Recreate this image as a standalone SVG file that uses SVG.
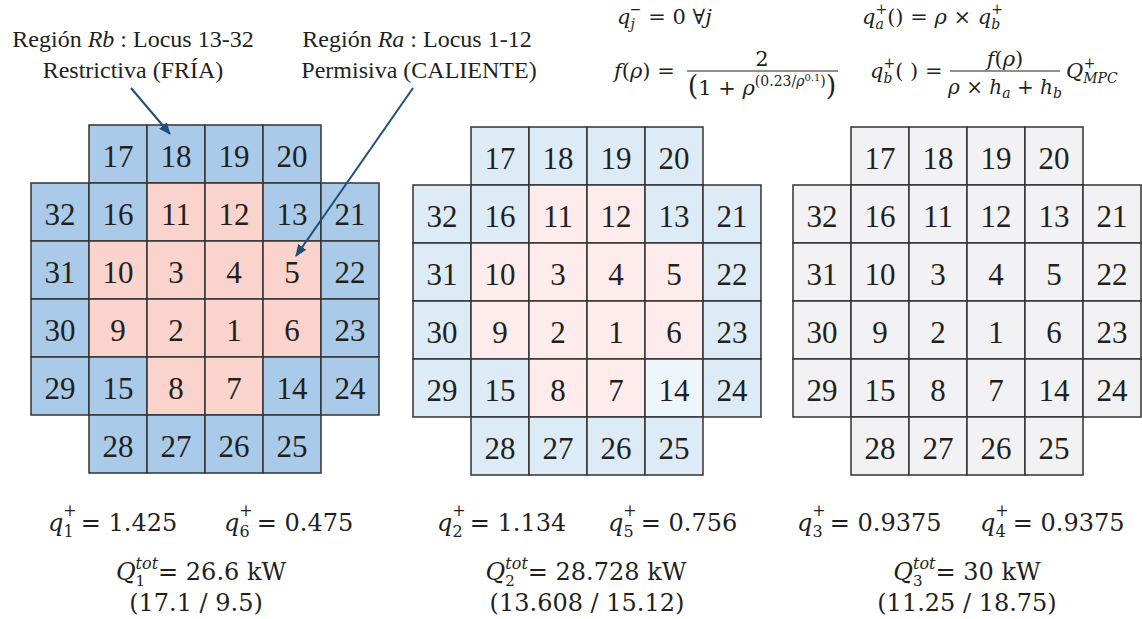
<svg xmlns="http://www.w3.org/2000/svg" width="1142" height="619" viewBox="0 0 1142 619">
<style>
rect{stroke:#333;stroke-width:1.5}
.b1{fill:#a9cae8}.p1{fill:#f9d3cc}.b2{fill:#ddebf6}.p2{fill:#fdeceb}.l2{fill:#eef5fb}.g3{fill:#f2f2f4}
.n{font-family:Liberation Serif,Times New Roman,Times,serif;font-size:31px;text-anchor:middle;fill:#231f20}
.lb{font-size:24px;text-anchor:middle;fill:#231f20}
.m{font-family:DejaVu Serif,Liberation Serif,serif;fill:#231f20}
.t{font-size:21px}.b{font-size:24px}
.i{font-style:italic}
.bar{stroke:#231f20;stroke-width:1.2}
.ar{stroke:#1f4e79;stroke-width:2;fill:none}
</style>
<defs>
<marker id="ah" markerWidth="12" markerHeight="10" refX="11" refY="5" orient="auto" markerUnits="userSpaceOnUse"><path d="M0,0 L12,5 L0,10 z" fill="#1f4e79"/></marker>
</defs>
<rect width="1142" height="619" fill="#fff" style="stroke:none"/>

<g id="labels" font-family="Liberation Serif, serif">
<text class="lb" x="133" y="47">Región <tspan font-style="italic">Rb</tspan> : Locus 13-32</text>
<text class="lb" x="133" y="78">Restrictiva (FRÍA)</text>
<text class="lb" x="417" y="47">Región <tspan font-style="italic">Ra</tspan> : Locus 1-12</text>
<text class="lb" x="419" y="78">Permisiva (CALIENTE)</text>
</g>

<g id="formulas">
<text class="m t" x="617" y="24"><tspan class="i">q</tspan><tspan class="i" font-size="14" dy="5">j</tspan><tspan font-size="14" dx="-5" dy="-15">−</tspan><tspan dy="10"> = 0 ∀</tspan><tspan class="i">j</tspan></text>
<text class="m t" x="862" y="24"><tspan class="i">q</tspan><tspan class="i" font-size="14" dy="5">a</tspan><tspan font-size="14" dx="-8.4" dy="-15">+</tspan><tspan dy="10">() = </tspan><tspan class="i">ρ</tspan><tspan> × </tspan><tspan class="i">q</tspan><tspan class="i" font-size="14" dy="5">b</tspan><tspan font-size="14" dx="-9" dy="-15">+</tspan></text>
<text class="m t" x="614" y="78"><tspan class="i">f</tspan>(<tspan class="i">ρ</tspan>) =</text>
<line class="bar" x1="687" y1="71" x2="838" y2="71"/>
<text class="m t" x="762" y="66" text-anchor="middle">2</text>
<text class="m t" x="762" y="95" text-anchor="middle"><tspan font-size="27">(</tspan>1 + <tspan class="i">ρ</tspan><tspan font-size="14" dy="-9">(0.23/</tspan><tspan class="i" font-size="14">ρ</tspan><tspan font-size="10" dy="-5">0.1</tspan><tspan font-size="14" dy="5">)</tspan><tspan font-size="27" dy="9">)</tspan></text>
<text class="m t" x="870" y="78"><tspan class="i">q</tspan><tspan class="i" font-size="14" dy="5">b</tspan><tspan font-size="14" dx="-9" dy="-15">+</tspan><tspan dy="10">( ) =</tspan></text>
<line class="bar" x1="950" y1="71" x2="1060" y2="71"/>
<text class="m t" x="1005" y="66" text-anchor="middle"><tspan class="i">f</tspan>(<tspan class="i">ρ</tspan>)</text>
<text class="m" font-size="20" x="1005" y="94" text-anchor="middle"><tspan class="i">ρ</tspan> × <tspan class="i">h</tspan><tspan class="i" font-size="14" dy="4">a</tspan><tspan dy="-4"> + </tspan><tspan class="i">h</tspan><tspan class="i" font-size="14" dy="4">b</tspan></text>
<text class="m t" x="1066" y="78"><tspan class="i">Q</tspan><tspan class="i" font-size="14" dy="5">MPC</tspan><tspan font-size="14" dx="-34" dy="-15">+</tspan></text>
</g>

<g id="grid1">
<g id="a17"><rect class="b1" x="89" y="125" width="58" height="58"/><text class="n" x="118" y="166.5">17</text></g>
<g id="a18"><rect class="b1" x="147" y="125" width="58" height="58"/><text class="n" x="176" y="166.5">18</text></g>
<g id="a19"><rect class="b1" x="205" y="125" width="58" height="58"/><text class="n" x="234" y="166.5">19</text></g>
<g id="a20"><rect class="b1" x="263" y="125" width="58" height="58"/><text class="n" x="292" y="166.5">20</text></g>
<g id="a32"><rect class="b1" x="31" y="183" width="58" height="58"/><text class="n" x="60" y="224.5">32</text></g>
<g id="a16"><rect class="b1" x="89" y="183" width="58" height="58"/><text class="n" x="118" y="224.5">16</text></g>
<g id="a11"><rect class="p1" x="147" y="183" width="58" height="58"/><text class="n" x="176" y="224.5">11</text></g>
<g id="a12"><rect class="p1" x="205" y="183" width="58" height="58"/><text class="n" x="234" y="224.5">12</text></g>
<g id="a13"><rect class="b1" x="263" y="183" width="58" height="58"/><text class="n" x="292" y="224.5">13</text></g>
<g id="a21"><rect class="b1" x="321" y="183" width="58" height="58"/><text class="n" x="350" y="224.5">21</text></g>
<g id="a31"><rect class="b1" x="31" y="241" width="58" height="58"/><text class="n" x="60" y="282.5">31</text></g>
<g id="a10"><rect class="p1" x="89" y="241" width="58" height="58"/><text class="n" x="118" y="282.5">10</text></g>
<g id="a3"><rect class="p1" x="147" y="241" width="58" height="58"/><text class="n" x="176" y="282.5">3</text></g>
<g id="a4"><rect class="p1" x="205" y="241" width="58" height="58"/><text class="n" x="234" y="282.5">4</text></g>
<g id="a5"><rect class="p1" x="263" y="241" width="58" height="58"/><text class="n" x="292" y="282.5">5</text></g>
<g id="a22"><rect class="b1" x="321" y="241" width="58" height="58"/><text class="n" x="350" y="282.5">22</text></g>
<g id="a30"><rect class="b1" x="31" y="299" width="58" height="58"/><text class="n" x="60" y="340.5">30</text></g>
<g id="a9"><rect class="p1" x="89" y="299" width="58" height="58"/><text class="n" x="118" y="340.5">9</text></g>
<g id="a2"><rect class="p1" x="147" y="299" width="58" height="58"/><text class="n" x="176" y="340.5">2</text></g>
<g id="a1"><rect class="p1" x="205" y="299" width="58" height="58"/><text class="n" x="234" y="340.5">1</text></g>
<g id="a6"><rect class="p1" x="263" y="299" width="58" height="58"/><text class="n" x="292" y="340.5">6</text></g>
<g id="a23"><rect class="b1" x="321" y="299" width="58" height="58"/><text class="n" x="350" y="340.5">23</text></g>
<g id="a29"><rect class="b1" x="31" y="357" width="58" height="58"/><text class="n" x="60" y="398.5">29</text></g>
<g id="a15"><rect class="b1" x="89" y="357" width="58" height="58"/><text class="n" x="118" y="398.5">15</text></g>
<g id="a8"><rect class="p1" x="147" y="357" width="58" height="58"/><text class="n" x="176" y="398.5">8</text></g>
<g id="a7"><rect class="p1" x="205" y="357" width="58" height="58"/><text class="n" x="234" y="398.5">7</text></g>
<g id="a14"><rect class="b1" x="263" y="357" width="58" height="58"/><text class="n" x="292" y="398.5">14</text></g>
<g id="a24"><rect class="b1" x="321" y="357" width="58" height="58"/><text class="n" x="350" y="398.5">24</text></g>
<g id="a28"><rect class="b1" x="89" y="415" width="58" height="58"/><text class="n" x="118" y="456.5">28</text></g>
<g id="a27"><rect class="b1" x="147" y="415" width="58" height="58"/><text class="n" x="176" y="456.5">27</text></g>
<g id="a26"><rect class="b1" x="205" y="415" width="58" height="58"/><text class="n" x="234" y="456.5">26</text></g>
<g id="a25"><rect class="b1" x="263" y="415" width="58" height="58"/><text class="n" x="292" y="456.5">25</text></g>
</g>

<g id="grid2">
<g id="b17"><rect class="b2" x="471" y="127" width="58" height="58"/><text class="n" x="500" y="168.5">17</text></g>
<g id="b18"><rect class="b2" x="529" y="127" width="58" height="58"/><text class="n" x="558" y="168.5">18</text></g>
<g id="b19"><rect class="b2" x="587" y="127" width="58" height="58"/><text class="n" x="616" y="168.5">19</text></g>
<g id="b20"><rect class="b2" x="645" y="127" width="58" height="58"/><text class="n" x="674" y="168.5">20</text></g>
<g id="b32"><rect class="b2" x="413" y="185" width="58" height="58"/><text class="n" x="442" y="226.5">32</text></g>
<g id="b16"><rect class="b2" x="471" y="185" width="58" height="58"/><text class="n" x="500" y="226.5">16</text></g>
<g id="b11"><rect class="p2" x="529" y="185" width="58" height="58"/><text class="n" x="558" y="226.5">11</text></g>
<g id="b12"><rect class="p2" x="587" y="185" width="58" height="58"/><text class="n" x="616" y="226.5">12</text></g>
<g id="b13"><rect class="b2" x="645" y="185" width="58" height="58"/><text class="n" x="674" y="226.5">13</text></g>
<g id="b21"><rect class="b2" x="703" y="185" width="58" height="58"/><text class="n" x="732" y="226.5">21</text></g>
<g id="b31"><rect class="b2" x="413" y="243" width="58" height="58"/><text class="n" x="442" y="284.5">31</text></g>
<g id="b10"><rect class="p2" x="471" y="243" width="58" height="58"/><text class="n" x="500" y="284.5">10</text></g>
<g id="b3"><rect class="p2" x="529" y="243" width="58" height="58"/><text class="n" x="558" y="284.5">3</text></g>
<g id="b4"><rect class="p2" x="587" y="243" width="58" height="58"/><text class="n" x="616" y="284.5">4</text></g>
<g id="b5"><rect class="p2" x="645" y="243" width="58" height="58"/><text class="n" x="674" y="284.5">5</text></g>
<g id="b22"><rect class="b2" x="703" y="243" width="58" height="58"/><text class="n" x="732" y="284.5">22</text></g>
<g id="b30"><rect class="b2" x="413" y="301" width="58" height="58"/><text class="n" x="442" y="342.5">30</text></g>
<g id="b9"><rect class="p2" x="471" y="301" width="58" height="58"/><text class="n" x="500" y="342.5">9</text></g>
<g id="b2"><rect class="p2" x="529" y="301" width="58" height="58"/><text class="n" x="558" y="342.5">2</text></g>
<g id="b1"><rect class="p2" x="587" y="301" width="58" height="58"/><text class="n" x="616" y="342.5">1</text></g>
<g id="b6"><rect class="p2" x="645" y="301" width="58" height="58"/><text class="n" x="674" y="342.5">6</text></g>
<g id="b23"><rect class="b2" x="703" y="301" width="58" height="58"/><text class="n" x="732" y="342.5">23</text></g>
<g id="b29"><rect class="b2" x="413" y="359" width="58" height="58"/><text class="n" x="442" y="400.5">29</text></g>
<g id="b15"><rect class="b2" x="471" y="359" width="58" height="58"/><text class="n" x="500" y="400.5">15</text></g>
<g id="b8"><rect class="p2" x="529" y="359" width="58" height="58"/><text class="n" x="558" y="400.5">8</text></g>
<g id="b7"><rect class="p2" x="587" y="359" width="58" height="58"/><text class="n" x="616" y="400.5">7</text></g>
<g id="b14"><rect class="l2" x="645" y="359" width="58" height="58"/><text class="n" x="674" y="400.5">14</text></g>
<g id="b24"><rect class="b2" x="703" y="359" width="58" height="58"/><text class="n" x="732" y="400.5">24</text></g>
<g id="b28"><rect class="b2" x="471" y="417" width="58" height="58"/><text class="n" x="500" y="458.5">28</text></g>
<g id="b27"><rect class="b2" x="529" y="417" width="58" height="58"/><text class="n" x="558" y="458.5">27</text></g>
<g id="b26"><rect class="b2" x="587" y="417" width="58" height="58"/><text class="n" x="616" y="458.5">26</text></g>
<g id="b25"><rect class="b2" x="645" y="417" width="58" height="58"/><text class="n" x="674" y="458.5">25</text></g>
</g>

<g id="grid3">
<g id="c17"><rect class="g3" x="851" y="127" width="58" height="58"/><text class="n" x="880" y="168.5">17</text></g>
<g id="c18"><rect class="g3" x="909" y="127" width="58" height="58"/><text class="n" x="938" y="168.5">18</text></g>
<g id="c19"><rect class="g3" x="967" y="127" width="58" height="58"/><text class="n" x="996" y="168.5">19</text></g>
<g id="c20"><rect class="g3" x="1025" y="127" width="58" height="58"/><text class="n" x="1054" y="168.5">20</text></g>
<g id="c32"><rect class="g3" x="793" y="185" width="58" height="58"/><text class="n" x="822" y="226.5">32</text></g>
<g id="c16"><rect class="g3" x="851" y="185" width="58" height="58"/><text class="n" x="880" y="226.5">16</text></g>
<g id="c11"><rect class="g3" x="909" y="185" width="58" height="58"/><text class="n" x="938" y="226.5">11</text></g>
<g id="c12"><rect class="g3" x="967" y="185" width="58" height="58"/><text class="n" x="996" y="226.5">12</text></g>
<g id="c13"><rect class="g3" x="1025" y="185" width="58" height="58"/><text class="n" x="1054" y="226.5">13</text></g>
<g id="c21"><rect class="g3" x="1083" y="185" width="58" height="58"/><text class="n" x="1112" y="226.5">21</text></g>
<g id="c31"><rect class="g3" x="793" y="243" width="58" height="58"/><text class="n" x="822" y="284.5">31</text></g>
<g id="c10"><rect class="g3" x="851" y="243" width="58" height="58"/><text class="n" x="880" y="284.5">10</text></g>
<g id="c3"><rect class="g3" x="909" y="243" width="58" height="58"/><text class="n" x="938" y="284.5">3</text></g>
<g id="c4"><rect class="g3" x="967" y="243" width="58" height="58"/><text class="n" x="996" y="284.5">4</text></g>
<g id="c5"><rect class="g3" x="1025" y="243" width="58" height="58"/><text class="n" x="1054" y="284.5">5</text></g>
<g id="c22"><rect class="g3" x="1083" y="243" width="58" height="58"/><text class="n" x="1112" y="284.5">22</text></g>
<g id="c30"><rect class="g3" x="793" y="301" width="58" height="58"/><text class="n" x="822" y="342.5">30</text></g>
<g id="c9"><rect class="g3" x="851" y="301" width="58" height="58"/><text class="n" x="880" y="342.5">9</text></g>
<g id="c2"><rect class="g3" x="909" y="301" width="58" height="58"/><text class="n" x="938" y="342.5">2</text></g>
<g id="c1"><rect class="g3" x="967" y="301" width="58" height="58"/><text class="n" x="996" y="342.5">1</text></g>
<g id="c6"><rect class="g3" x="1025" y="301" width="58" height="58"/><text class="n" x="1054" y="342.5">6</text></g>
<g id="c23"><rect class="g3" x="1083" y="301" width="58" height="58"/><text class="n" x="1112" y="342.5">23</text></g>
<g id="c29"><rect class="g3" x="793" y="359" width="58" height="58"/><text class="n" x="822" y="400.5">29</text></g>
<g id="c15"><rect class="g3" x="851" y="359" width="58" height="58"/><text class="n" x="880" y="400.5">15</text></g>
<g id="c8"><rect class="g3" x="909" y="359" width="58" height="58"/><text class="n" x="938" y="400.5">8</text></g>
<g id="c7"><rect class="g3" x="967" y="359" width="58" height="58"/><text class="n" x="996" y="400.5">7</text></g>
<g id="c14"><rect class="g3" x="1025" y="359" width="58" height="58"/><text class="n" x="1054" y="400.5">14</text></g>
<g id="c24"><rect class="g3" x="1083" y="359" width="58" height="58"/><text class="n" x="1112" y="400.5">24</text></g>
<g id="c28"><rect class="g3" x="851" y="417" width="58" height="58"/><text class="n" x="880" y="458.5">28</text></g>
<g id="c27"><rect class="g3" x="909" y="417" width="58" height="58"/><text class="n" x="938" y="458.5">27</text></g>
<g id="c26"><rect class="g3" x="967" y="417" width="58" height="58"/><text class="n" x="996" y="458.5">26</text></g>
<g id="c25"><rect class="g3" x="1025" y="417" width="58" height="58"/><text class="n" x="1054" y="458.5">25</text></g>
</g>

<g id="connectors">
<line class="ar" x1="131" y1="88" x2="170" y2="134" marker-end="url(#ah)"/>
<line class="ar" x1="413" y1="88" x2="296" y2="256" marker-end="url(#ah)"/>
</g>

<g id="results">
<text class="m b" x="48" y="531"><tspan class="i">q</tspan><tspan font-size="16" dy="6">1</tspan><tspan font-size="16" dx="-10.2" dy="-21">+</tspan><tspan dy="15" dx="4">= 1.425</tspan></text>
<text class="m b" x="224" y="531"><tspan class="i">q</tspan><tspan font-size="16" dy="6">6</tspan><tspan font-size="16" dx="-10.2" dy="-21">+</tspan><tspan dy="15" dx="4">= 0.475</tspan></text>
<text class="m b" x="437" y="531"><tspan class="i">q</tspan><tspan font-size="16" dy="6">2</tspan><tspan font-size="16" dx="-10.2" dy="-21">+</tspan><tspan dy="15" dx="4">= 1.134</tspan></text>
<text class="m b" x="608" y="531"><tspan class="i">q</tspan><tspan font-size="16" dy="6">5</tspan><tspan font-size="16" dx="-10.2" dy="-21">+</tspan><tspan dy="15" dx="4">= 0.756</tspan></text>
<text class="m b" x="797" y="531"><tspan class="i">q</tspan><tspan font-size="16" dy="6">3</tspan><tspan font-size="16" dx="-10.2" dy="-21">+</tspan><tspan dy="15" dx="4">= 0.9375</tspan></text>
<text class="m b" x="980" y="531"><tspan class="i">q</tspan><tspan font-size="16" dy="6">4</tspan><tspan font-size="16" dx="-10.2" dy="-21">+</tspan><tspan dy="15" dx="4">= 0.9375</tspan></text>

<text class="m b" x="201" y="580" text-anchor="middle"><tspan class="i">Q</tspan><tspan font-size="15" dy="6">1</tspan><tspan class="i" font-size="16" dx="-9.5" dy="-17">tot</tspan><tspan dy="11">= 26.6 kW</tspan></text>
<text class="m b" x="586" y="580" text-anchor="middle"><tspan class="i">Q</tspan><tspan font-size="15" dy="6">2</tspan><tspan class="i" font-size="16" dx="-9.5" dy="-17">tot</tspan><tspan dy="11">= 28.728 kW</tspan></text>
<text class="m b" x="967" y="580" text-anchor="middle"><tspan class="i">Q</tspan><tspan font-size="15" dy="6">3</tspan><tspan class="i" font-size="16" dx="-9.5" dy="-17">tot</tspan><tspan dy="11">= 30 kW</tspan></text>

<text class="m b" x="196" y="611" text-anchor="middle">(17.1 / 9.5)</text>
<text class="m b" x="587" y="611" text-anchor="middle">(13.608 / 15.12)</text>
<text class="m b" x="967" y="611" text-anchor="middle">(11.25 / 18.75)</text>
</g>
</svg>
